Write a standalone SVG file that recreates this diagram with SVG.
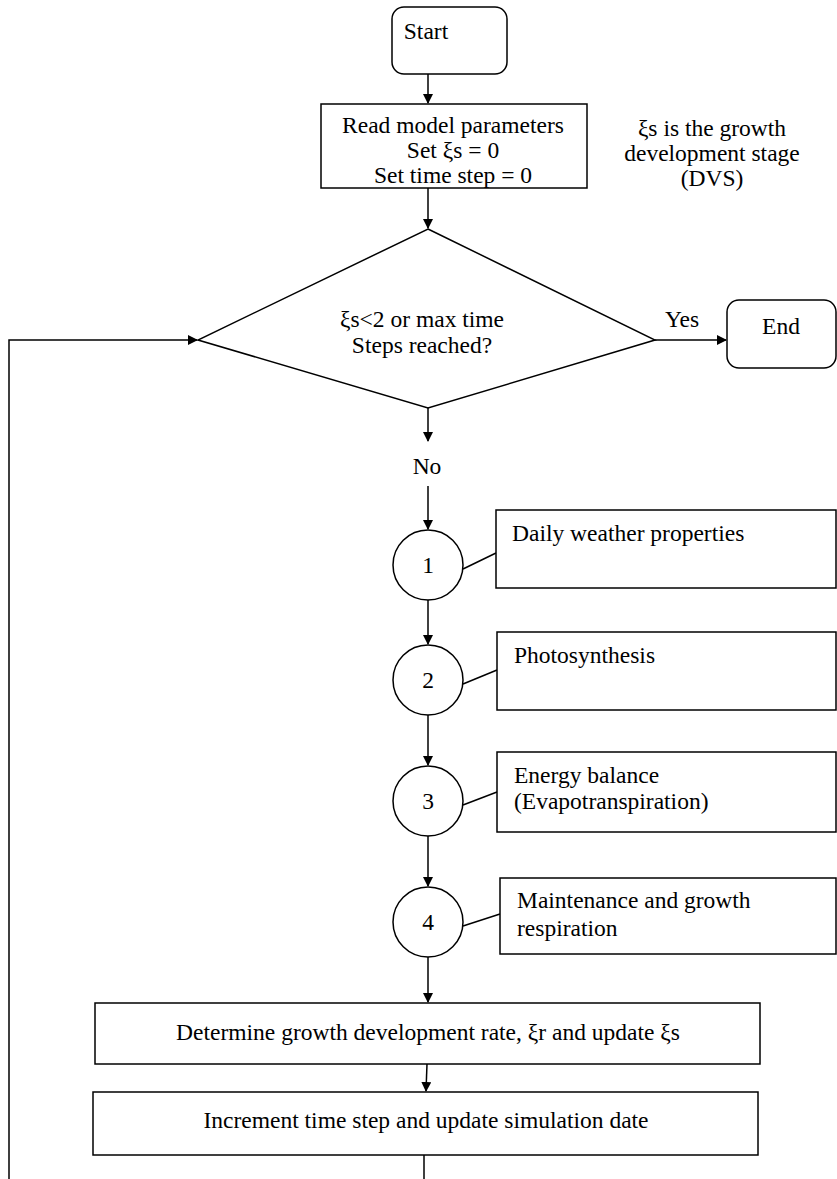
<svg xmlns="http://www.w3.org/2000/svg" width="837" height="1179" viewBox="0 0 837 1179">
<style>
.s{fill:#fff;stroke:#000;stroke-width:1.5}
.t{font-family:"Liberation Serif","Times New Roman",serif;font-size:23.5px;fill:#000}
.c{text-anchor:middle}
.l{fill:none;stroke:#000;stroke-width:1.5}
</style>
<defs>
<marker id="ah" markerWidth="10" markerHeight="10" refX="9" refY="5" orient="auto" markerUnits="userSpaceOnUse">
<path d="M0,0 L10,5 L0,10 z" fill="#000"/>
</marker>
</defs>
<rect width="837" height="1179" fill="#fff"/>
<g id="connectors">
<line class="l" x1="428" y1="74" x2="428" y2="103" marker-end="url(#ah)"/>
<line class="l" x1="428" y1="188" x2="428" y2="228" marker-end="url(#ah)"/>
<line class="l" x1="655" y1="340" x2="726" y2="340" marker-end="url(#ah)"/>
<polyline class="l" points="9,1179 9,340 197,340" marker-end="url(#ah)"/>
<line class="l" x1="428" y1="408" x2="428" y2="441" marker-end="url(#ah)"/>
<line class="l" x1="428" y1="486" x2="428" y2="529" marker-end="url(#ah)"/>
<line class="l" x1="428" y1="600" x2="428" y2="644" marker-end="url(#ah)"/>
<line class="l" x1="428" y1="715" x2="428" y2="765" marker-end="url(#ah)"/>
<line class="l" x1="428" y1="836" x2="428" y2="886" marker-end="url(#ah)"/>
<line class="l" x1="428" y1="957" x2="428" y2="1002" marker-end="url(#ah)"/>
<line class="l" x1="427" y1="1064" x2="426" y2="1091" marker-end="url(#ah)"/>
<line class="l" x1="424" y1="1155" x2="424" y2="1179"/>
<line class="l" x1="463" y1="569" x2="496" y2="553"/>
<line class="l" x1="463" y1="684" x2="497" y2="670"/>
<line class="l" x1="463" y1="805" x2="497" y2="792"/>
<line class="l" x1="463" y1="926" x2="500" y2="914"/>
<text class="t c" x="682" y="327">Yes</text>
<text class="t c" x="427" y="474">No</text>
</g>
<g id="start">
<rect class="s" x="392" y="7" width="115" height="67" rx="12"/>
<text class="t c" x="426" y="39">Start</text>
</g>
<g id="read">
<rect class="s" x="321" y="104" width="266" height="84"/>
<text class="t c" x="453" y="133">Read model parameters</text>
<text class="t c" x="453" y="158">Set ξs = 0</text>
<text class="t c" x="453" y="183">Set time step = 0</text>
</g>
<g id="note">
<text class="t c" x="712" y="136">ξs is the growth</text>
<text class="t c" x="712" y="161">development stage</text>
<text class="t c" x="712" y="186">(DVS)</text>
</g>
<g id="decision">
<polygon class="s" points="428,229 655,340 428,408 198,340"/>
<text class="t c" x="422" y="327">ξs&lt;2 or max time</text>
<text class="t c" x="422" y="353">Steps reached?</text>
</g>
<g id="end">
<rect class="s" x="727" y="300" width="109" height="68" rx="12"/>
<text class="t c" x="781" y="334">End</text>
</g>
<g id="c1">
<circle class="s" cx="428" cy="565" r="35"/>
<text class="t c" x="428" y="573">1</text>
</g>
<g id="b1">
<rect class="s" x="496" y="510" width="340" height="78"/>
<text class="t" x="512" y="541">Daily weather properties</text>
</g>
<g id="c2">
<circle class="s" cx="428" cy="680" r="35"/>
<text class="t c" x="428" y="688">2</text>
</g>
<g id="b2">
<rect class="s" x="497" y="632" width="339" height="78"/>
<text class="t" x="514" y="663">Photosynthesis</text>
</g>
<g id="c3">
<circle class="s" cx="428" cy="801" r="35"/>
<text class="t c" x="428" y="809">3</text>
</g>
<g id="b3">
<rect class="s" x="497" y="752" width="339" height="80"/>
<text class="t" x="514" y="783">Energy balance</text>
<text class="t" x="514" y="809">(Evapotranspiration)</text>
</g>
<g id="c4">
<circle class="s" cx="428" cy="922" r="35"/>
<text class="t c" x="428" y="930">4</text>
</g>
<g id="b4">
<rect class="s" x="500" y="878" width="336" height="76"/>
<text class="t" x="517" y="908">Maintenance and growth</text>
<text class="t" x="517" y="936">respiration</text>
</g>
<g id="determine">
<rect class="s" x="95" y="1003" width="665" height="61"/>
<text class="t c" x="428" y="1040">Determine growth development rate, ξr and update ξs</text>
</g>
<g id="increment">
<rect class="s" x="93" y="1092" width="665" height="63"/>
<text class="t c" x="426" y="1128">Increment time step and update simulation date</text>
</g>
</svg>
